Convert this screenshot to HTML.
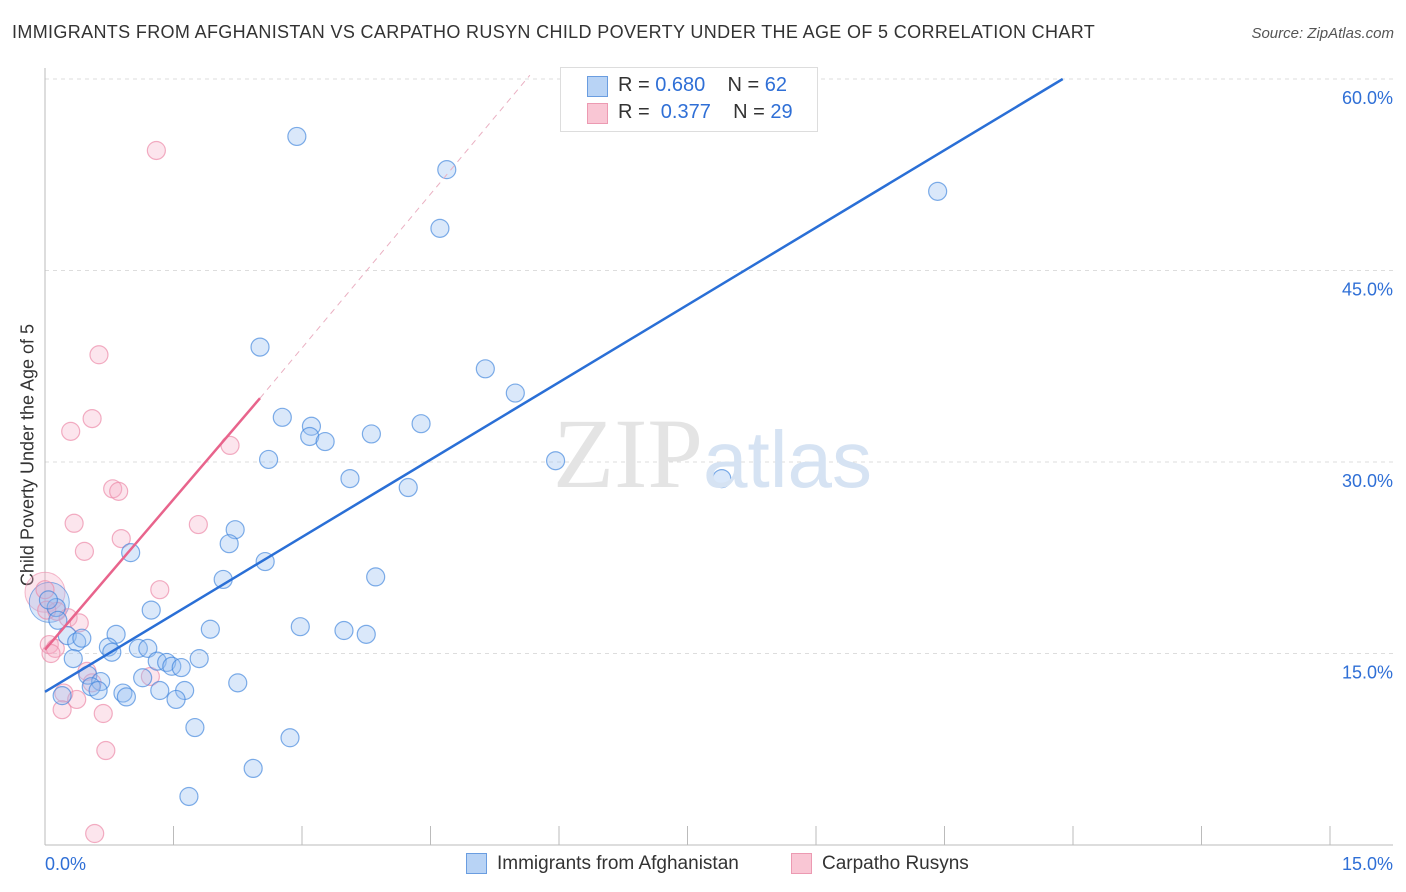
<!DOCTYPE html>
<html><head><meta charset="utf-8">
<style>
body{margin:0;background:#fff;font-family:"Liberation Sans",sans-serif;}
#wrap{position:relative;width:1406px;height:892px;overflow:hidden;}
.t{position:absolute;white-space:nowrap;}
</style></head>
<body>
<div id="wrap">
<div class="t" style="left:12px;top:22px;font-size:18px;letter-spacing:0.35px;color:#333;">IMMIGRANTS FROM AFGHANISTAN VS CARPATHO RUSYN CHILD POVERTY UNDER THE AGE OF 5 CORRELATION CHART</div>
<div class="t" style="right:12px;top:25px;font-size:15px;color:#555;font-style:italic;">Source: ZipAtlas.com</div>
<div class="t" style="left:28px;top:455px;font-size:18px;color:#333;transform:translate(-50%,-50%) rotate(-90deg);">Child Poverty Under the Age of 5</div>
<svg id="svg" width="1406" height="892" style="position:absolute;left:0;top:0"></svg>
<div class="t" style="left:560px;top:67px;width:256px;height:63px;border:1px solid #ddd;background:#fff;"></div>
<div class="t" style="left:587px;top:76px;width:19px;height:19px;background:#b8d3f5;border:1px solid #6a9de0;"></div>
<div class="t" style="left:587px;top:103px;width:19px;height:19px;background:#f9c6d4;border:1px solid #ec9ab2;"></div>
<div class="t" style="left:618px;top:74px;font-size:20px;color:#333;">R = <span style="color:#2f6fd6">0.680</span>&nbsp;&nbsp;&nbsp; N = <span style="color:#2f6fd6">62</span></div>
<div class="t" style="left:618px;top:101px;font-size:20px;color:#333;">R = &nbsp;<span style="color:#2f6fd6">0.377</span>&nbsp;&nbsp;&nbsp; N = <span style="color:#2f6fd6">29</span></div>
<div class="t" style="left:466px;top:853px;width:19px;height:19px;background:#b8d3f5;border:1px solid #6a9de0;"></div>
<div class="t" style="left:497px;top:853px;font-size:19px;color:#333;">Immigrants from Afghanistan</div>
<div class="t" style="left:791px;top:853px;width:19px;height:19px;background:#f9c6d4;border:1px solid #ec9ab2;"></div>
<div class="t" style="left:822px;top:853px;font-size:19px;color:#333;">Carpatho Rusyns</div>
<div class="t" style="left:553px;top:396px;font-size:100px;color:#e4e4e4;font-family:'Liberation Serif',serif;">ZIP<span style="font-family:'Liberation Sans',sans-serif;color:#d6e3f3;font-size:80px;">atlas</span></div>
</div>
<script>
const yTicks=[15,30,45,60];
const yTickLabels=["15.0%","30.0%","45.0%","60.0%"];
const xEnds=[0,15];
const xEndLabels=["0.0%","15.0%"];
const blueX=[2.94,4.69,4.61,10.42,2.51,5.14,5.49,2.77,3.11,3.09,3.27,3.81,4.39,2.61,5.96,3.56,4.24,7.90,2.22,2.15,1.00,2.57,3.86,2.08,1.24,0.13,0.15,0.26,0.37,0.43,0.83,2.98,3.49,3.75,1.93,0.74,0.78,1.09,1.20,0.33,1.31,1.42,1.48,1.59,1.80,1.14,0.50,0.65,0.54,0.62,0.20,0.91,0.95,1.34,1.63,1.53,2.25,1.75,2.86,2.43,1.68,0.04];
const blueY=[55.5,52.9,48.3,51.2,39.0,37.3,35.4,33.5,32.8,32.0,31.6,32.2,33.0,30.2,30.1,28.7,28.0,28.7,24.7,23.6,22.9,22.2,21.0,20.8,18.4,18.6,17.6,16.4,15.9,16.2,16.5,17.1,16.8,16.5,16.9,15.5,15.1,15.4,15.4,14.6,14.4,14.3,14.0,13.9,14.6,13.1,13.3,12.8,12.4,12.1,11.7,11.9,11.6,12.1,12.1,11.4,12.7,9.2,8.4,6.0,3.8,19.2];
const pinkX=[1.30,0.63,0.55,0.30,2.16,0.79,0.86,0.34,1.79,0.46,0.89,1.34,0.14,0.27,0.40,0.05,0.12,0.07,1.23,0.49,0.55,0.22,0.37,0.20,0.68,0.71,0.58,0.00,0.02];
const pinkY=[54.4,38.4,33.4,32.4,31.3,27.9,27.7,25.2,25.1,23.0,24.0,20.0,18.3,17.8,17.4,15.7,15.4,15.0,13.2,13.6,12.7,11.9,11.4,10.6,10.3,7.4,0.9,20.0,18.4];
const blueLine=[[0,12.0],[11.88,60]];
const pinkLine=[[0,15.3],[2.51,35.0]];
const pinkDash=[[2.51,35.0],[5.66,60.3]];
const X0=45,X1=1330,Y0=845,PY=191.5/15;
const sx=v=>X0+(v-xEnds[0])/(xEnds[1]-xEnds[0])*(X1-X0);
const sy=v=>Y0-v*PY;
const svg=document.getElementById('svg');
const NS='http://www.w3.org/2000/svg';
function mk(tag,attrs){const e=document.createElementNS(NS,tag);for(const k in attrs)e.setAttribute(k,attrs[k]);svg.appendChild(e);return e;}
yTicks.forEach((t,i)=>{
 const g=mk('line',{x1:45,x2:1393,y1:sy(t),y2:sy(t),stroke:'#ddd','stroke-dasharray':'4,4'});
 
 
 const tx=mk('text',{x:1393,y:sy(t)+25,'text-anchor':'end','font-size':18,fill:'#2f6fd6','font-family':'Liberation Sans'});
 tx.textContent=yTickLabels[i];
 
 
});
const ax=mk('line',{x1:45,x2:45,y1:68,y2:845,stroke:'#bbb'});


const bx=mk('line',{x1:45,x2:1393,y1:845,y2:845,stroke:'#bbb'});


for(let i=0;i<=10;i++){
 const v=xEnds[0]+i*(xEnds[1]-xEnds[0])/10;
 const tk=mk('line',{x1:sx(v),x2:sx(v),y1:826,y2:845,stroke:'#bbb'});
 
 
}
xEndLabels.forEach((l,i)=>{
 const tx=mk('text',{x:i?1393:45,y:870,'text-anchor':i?'end':'start','font-size':18,fill:'#2f6fd6','font-family':'Liberation Sans'});
 tx.textContent=l;
 
 
});
const bp=mk('circle',{cx:sx(0),cy:sy(19.8),r:20,fill:'rgba(246,170,195,0.3)',stroke:'rgba(236,140,170,0.6)'});


const bb=mk('circle',{cx:sx(0.05),cy:sy(19.0),r:20,fill:'rgba(150,190,240,0.35)',stroke:'rgba(60,130,220,0.6)'});


pinkX.forEach((x,i)=>{
 const c=mk('circle',{cx:sx(x),cy:sy(pinkY[i]),r:9,fill:'rgba(246,170,195,0.3)',stroke:'rgba(236,140,170,0.7)','stroke-width':1.2});
 
 
});
blueX.forEach((x,i)=>{
 const c=mk('circle',{cx:sx(x),cy:sy(blueY[i]),r:9,fill:'rgba(150,190,240,0.35)',stroke:'rgba(60,130,220,0.65)','stroke-width':1.2});
 
 
});
const l1=mk('line',{x1:sx(blueLine[0][0]),y1:sy(blueLine[0][1]),x2:sx(blueLine[1][0]),y2:sy(blueLine[1][1]),stroke:'#2a6fd6','stroke-width':2.5});


const l2=mk('line',{x1:sx(pinkLine[0][0]),y1:sy(pinkLine[0][1]),x2:sx(pinkLine[1][0]),y2:sy(pinkLine[1][1]),stroke:'#e8648c','stroke-width':2.5});


const l3=mk('line',{x1:sx(pinkDash[0][0]),y1:sy(pinkDash[0][1]),x2:sx(pinkDash[1][0]),y2:sy(pinkDash[1][1]),stroke:'#eab0c2','stroke-width':1,'stroke-dasharray':'6,5'});


</script>
</body></html>
